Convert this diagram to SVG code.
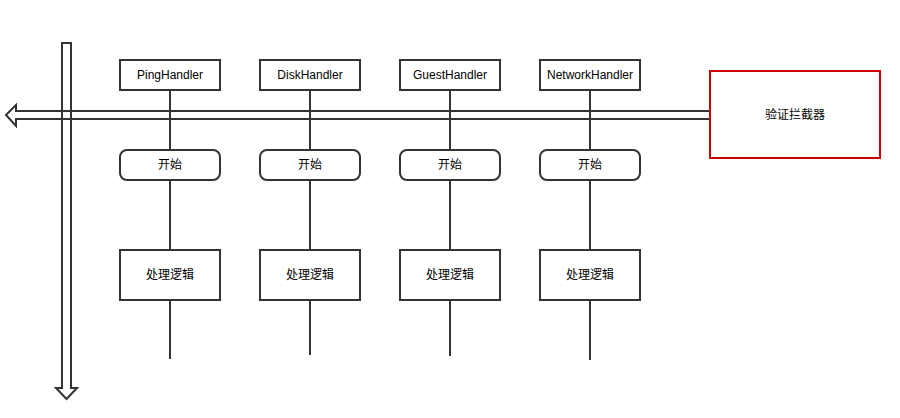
<svg xmlns="http://www.w3.org/2000/svg" width="900" height="418" viewBox="0 0 900 418">
<style>
.box{fill:#fff;stroke:#333;stroke-width:2}
.ln{stroke:#333;stroke-width:2;fill:none}
.arr{fill:none;stroke:#333;stroke-width:2;stroke-linejoin:miter}
text{font-family:"Liberation Sans","Noto Sans CJK SC",sans-serif;font-size:12px;fill:#000;text-anchor:middle;dominant-baseline:central}
</style>
<rect width="900" height="418" fill="#fff"/>
<g id="connectors">
<line class="ln" x1="170" y1="90" x2="170" y2="359"/>
<line class="ln" x1="310" y1="90" x2="310" y2="355"/>
<line class="ln" x1="450" y1="90" x2="450" y2="356"/>
<line class="ln" x1="590" y1="90" x2="590" y2="360"/>
</g>
<g id="flow-arrow">
<path class="arr" d="M710,111 L16,111 L16,105 L6,115 L16,126 L16,119 L710,119"/>
</g>
<g id="time-arrow">
<path class="arr" d="M62,388 L62,43 L71,43 L71,388 L77,388 L66.5,399 L56,388 Z"/>
</g>
<g id="interceptor">
<rect x="710" y="71" width="170" height="87" fill="#fff" stroke="#CC0000" stroke-width="2"/>
<text x="795" y="115">验证拦截器</text>
</g>
<g id="ping">
<rect class="box" x="120" y="60" width="100" height="30"/>
<text x="170" y="75">PingHandler</text>
</g>
<g id="disk">
<rect class="box" x="260" y="60" width="100" height="30"/>
<text x="310" y="75">DiskHandler</text>
</g>
<g id="guest">
<rect class="box" x="400" y="60" width="100" height="30"/>
<text x="450" y="75">GuestHandler</text>
</g>
<g id="network">
<rect class="box" x="540" y="60" width="100" height="30"/>
<text x="590" y="75">NetworkHandler</text>
</g>
<g id="start1"><rect class="box" x="120" y="150" width="100" height="30" rx="7"/><text x="170" y="165">开始</text></g>
<g id="start2"><rect class="box" x="260" y="150" width="100" height="30" rx="7"/><text x="310" y="165">开始</text></g>
<g id="start3"><rect class="box" x="400" y="150" width="100" height="30" rx="7"/><text x="450" y="165">开始</text></g>
<g id="start4"><rect class="box" x="540" y="150" width="100" height="30" rx="7"/><text x="590" y="165">开始</text></g>
<g id="logic1"><rect class="box" x="120" y="250" width="100" height="50"/><text x="170" y="275">处理逻辑</text></g>
<g id="logic2"><rect class="box" x="260" y="250" width="100" height="50"/><text x="310" y="275">处理逻辑</text></g>
<g id="logic3"><rect class="box" x="400" y="250" width="100" height="50"/><text x="450" y="275">处理逻辑</text></g>
<g id="logic4"><rect class="box" x="540" y="250" width="100" height="50"/><text x="590" y="275">处理逻辑</text></g>
</svg>
